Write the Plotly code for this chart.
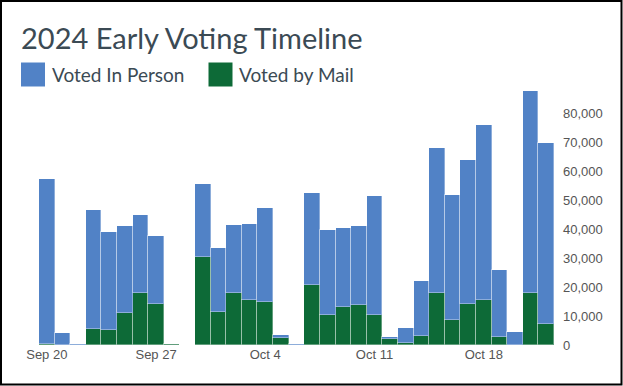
import plotly.graph_objects as go
import pandas as pd

dates = pd.date_range("2024-09-20", "2024-10-22", freq="D").strftime("%Y-%m-%d").tolist()
total = [57200, 4200, 450, 46600, 38800, 40900, 44700, 37600, 450, 0,
         55400, 33300, 41300, 41700, 47200, 3400, 450,
         52500, 39600, 40500, 41000, 51300, 2900, 5900,
         22100, 67900, 51600, 63900, 75800, 25900, 4600,
         87500, 69700]
mail = [400, 0, 0, 5400, 5100, 11000, 17900, 14200, 450, 0,
        30300, 11300, 17900, 15400, 15000, 2500, 0,
        20800, 10400, 13100, 13700, 10400, 2200, 600,
        3200, 17900, 8500, 14100, 15500, 2900, 0,
        17900, 7200]
in_person = [t - m for t, m in zip(total, mail)]
y_ticks = [0, 10000, 20000, 30000, 40000, 50000, 60000, 70000, 80000]
series_names = ["Voted In Person", "Voted by Mail"]

BLUE = "#5182c6"
GREEN = "#0d6a37"
TXT = "#3b4a54"

W, H = 623, 386
L, R, T, B = 39, 69, 84, 41
PW, PH = W - L - R, H - T - B

def px(x):
    return (x - L) / PW

def py(y):
    return (H - B - y) / PH

fig = go.Figure()
fig.add_trace(go.Bar(x=dates, y=mail, name=series_names[1], marker_color=GREEN,
                     marker_line=dict(color="rgba(255,255,255,0.35)", width=1),
                     showlegend=False))
fig.add_trace(go.Bar(x=dates, y=in_person, name=series_names[0], marker_color=BLUE,
                     marker_line=dict(color="rgba(255,255,255,0.35)", width=1),
                     showlegend=False))

shapes = [
    dict(type="rect", xref="paper", yref="paper", x0=px(1), x1=px(W - 1.5), y0=py(H - 1.5), y1=py(1),
         line=dict(color="black", width=2), fillcolor="rgba(0,0,0,0)", layer="above"),
    dict(type="rect", xref="paper", yref="paper", x0=px(21), x1=px(45), y0=py(86.5), y1=py(62.5),
         line=dict(width=0), fillcolor=BLUE),
    dict(type="rect", xref="paper", yref="paper", x0=px(208.5), x1=px(232.5), y0=py(86.5), y1=py(62.5),
         line=dict(width=0), fillcolor=GREEN),
]
annotations = [
    dict(text="2024 Early Voting Timeline", xref="paper", yref="paper", x=px(19), y=py(37),
         xanchor="left", yanchor="middle", showarrow=False,
         font=dict(family="Lato", size=29, color=TXT)),
    dict(text=series_names[0], xref="paper", yref="paper", x=px(50), y=py(75),
         xanchor="left", yanchor="middle", showarrow=False,
         font=dict(family="Lato", size=19, color=TXT)),
    dict(text=series_names[1], xref="paper", yref="paper", x=px(236.5), y=py(75),
         xanchor="left", yanchor="middle", showarrow=False,
         font=dict(family="Lato", size=19, color=TXT)),
]

fig.update_layout(
    width=W, height=H,
    margin=dict(l=L, r=R, t=T, b=B, pad=0),
    barmode="stack", bargap=0,
    plot_bgcolor="white", paper_bgcolor="white",
    shapes=shapes, annotations=annotations,
    showlegend=False,
    xaxis=dict(type="date", range=["2024-09-19 12:00", "2024-10-22 12:00"],
               tick0="2024-09-20", dtick=7 * 86400000, tickformat="%b %-d",
               showgrid=False, zeroline=False, showline=False, ticks="",
               tickfont=dict(family="Liberation Sans, Arial", size=13, color="#555555")),
    yaxis=dict(range=[0, 90000], side="right", tickvals=y_ticks,
               tickformat=",d", showgrid=False, zeroline=False, showline=False, ticks="",
               ticklabelstandoff=8,
               tickfont=dict(family="Liberation Sans, Arial", size=13, color="#555555")),
)

fig.write_html("out.html", config={"displayModeBar": False},
               post_script="document.body.style.margin='0';document.body.style.overflow='hidden';")
